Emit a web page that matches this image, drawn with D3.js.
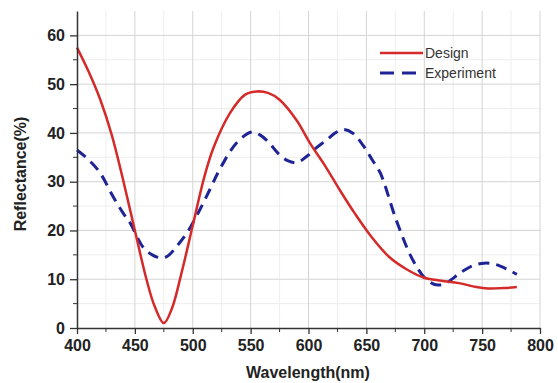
<!DOCTYPE html>
<html>
<head>
<meta charset="utf-8">
<script src="https://cdn.jsdelivr.net/npm/d3@7"></script>
<style>
  body { margin: 0; background: #fff; }
  text { font-family: "Liberation Sans", Arial, sans-serif; }
</style>
</head>
<body>
<div id="chart"></div>
<script>
// data
var designWl  = [400, 410, 420, 430, 440, 450, 460, 467, 475, 482, 490, 500, 510, 518, 532, 545, 555, 565, 575, 590, 601, 615, 627, 640, 655, 670, 685, 700, 715, 730, 745, 755, 770, 780];
var designVal = [57.5, 52.6, 46.9, 39.6, 30.2, 20, 10, 4.5, 1, 4, 11, 21, 31, 37, 44, 47.8, 48.5, 48.2, 46.8, 42.5, 38, 33, 28.3, 23.5, 18.5, 14.5, 12, 10.3, 9.7, 9.2, 8.4, 8.1, 8.2, 8.4];

var expWl  = [400, 410, 420, 431, 440, 446, 457, 465, 472, 478, 487, 495, 506, 515, 523, 538, 551, 558, 566, 573, 582, 590, 598, 607, 616, 623, 630, 638, 647, 655, 662, 676, 690, 702, 712, 720, 731, 742, 752, 762, 772, 780];
var expVal = [36.5, 34.5, 31.8, 27, 23.5, 21.5, 16.6, 15, 14.4, 14.7, 17, 19.5, 24.2, 28.5, 32.4, 38, 40.2, 39.6, 38, 36, 34.3, 33.9, 35.1, 37, 38.6, 40, 40.7, 40, 37.5, 34.5, 31.8, 22, 14, 9.9, 8.8, 9.4, 11.3, 12.8, 13.3, 13, 12, 11];

var xTicks = [400, 450, 500, 550, 600, 650, 700, 750, 800];
var yTicks = [0, 10, 20, 30, 40, 50, 60];
var seriesNames = ["Design", "Experiment"];

var width = 558, height = 383;
var margin = {top: 11, right: 18, bottom: 55, left: 77};

var svg = d3.select("#chart")
    .append("svg")
    .attr("width", width)
    .attr("height", height);

var x = d3.scaleLinear().domain([400, 800]).range([margin.left, width - margin.right]);
var y = d3.scaleLinear().domain([0, 65]).range([height - margin.bottom, margin.top]);

var xMinor = d3.range(425, 800, 50);
var yMinor = d3.range(5, 65, 10);

// grid, minor first
var grid = svg.append("g");
grid.selectAll(".vminor").data(xMinor).enter().append("line")
    .attr("x1", d => x(d)).attr("x2", d => x(d))
    .attr("y1", y(0)).attr("y2", margin.top)
    .attr("stroke", "#eeeeee").attr("stroke-width", 1);
grid.selectAll(".hminor").data(yMinor).enter().append("line")
    .attr("x1", x(400)).attr("x2", x(800))
    .attr("y1", d => y(d)).attr("y2", d => y(d))
    .attr("stroke", "#eeeeee").attr("stroke-width", 1);
grid.selectAll(".vmajor").data(xTicks.slice(1)).enter().append("line")
    .attr("x1", d => x(d)).attr("x2", d => x(d))
    .attr("y1", y(0)).attr("y2", margin.top)
    .attr("stroke", "#d4d4d4").attr("stroke-width", 1);
grid.selectAll(".hmajor").data(yTicks.slice(1)).enter().append("line")
    .attr("x1", x(400)).attr("x2", x(800))
    .attr("y1", d => y(d)).attr("y2", d => y(d))
    .attr("stroke", "#d4d4d4").attr("stroke-width", 1);

// lines
var design = designWl.map((d, i) => [d, designVal[i]]);
var exper = expWl.map((d, i) => [d, expVal[i]]);

var line = d3.line()
    .x(d => x(d[0]))
    .y(d => y(d[1]))
    .curve(d3.curveCatmullRom);

svg.append("path")
    .datum(exper)
    .attr("fill", "none")
    .attr("stroke", "#1e2496")
    .attr("stroke-width", 3)
    .attr("stroke-dasharray", "11,7")
    .attr("d", line);

svg.append("path")
    .datum(design)
    .attr("fill", "none")
    .attr("stroke", "#d42a2a")
    .attr("stroke-width", 2.5)
    .attr("d", line);

// axes
var xAxis = svg.append("g")
    .attr("transform", "translate(0," + y(0) + ")")
    .call(d3.axisBottom(x).tickValues(xTicks).tickSize(6).tickPadding(6).tickSizeOuter(0));
xAxis.selectAll(".minor").data(xMinor).enter().append("line")
    .attr("x1", d => x(d)).attr("x2", d => x(d))
    .attr("y1", 0).attr("y2", 4)
    .attr("stroke", "#333");

var yAxis = svg.append("g")
    .attr("transform", "translate(" + x(400) + ",0)")
    .call(d3.axisLeft(y).tickValues(yTicks).tickSize(7).tickPadding(5).tickSizeOuter(0));
yAxis.selectAll(".minor").data(yMinor).enter().append("line")
    .attr("x1", 0).attr("x2", -4)
    .attr("y1", d => y(d)).attr("y2", d => y(d))
    .attr("stroke", "#333");

[xAxis, yAxis].forEach(function(a) {
    a.select(".domain").attr("stroke", "#333").attr("stroke-width", 1.5);
    a.selectAll(".tick line").attr("stroke", "#333").attr("stroke-width", 1.3);
    a.selectAll(".tick text")
        .attr("fill", "#222")
        .style("font-size", "16px")
        .style("font-weight", "bold")
        .style("font-family", "'Liberation Sans', Arial, sans-serif");
});

// axis titles
svg.append("text")
    .attr("x", 308).attr("y", 378)
    .attr("text-anchor", "middle")
    .attr("fill", "#222")
    .style("font-size", "16px").style("font-weight", "bold")
    .text("Wavelength(nm)");

svg.append("text")
    .attr("transform", "translate(26,174) rotate(-90)")
    .attr("text-anchor", "middle")
    .attr("fill", "#222")
    .style("font-size", "16px").style("font-weight", "bold")
    .text("Reflectance(%)");

// legend
var legend = svg.append("g");
legend.append("line")
    .attr("x1", 380).attr("x2", 423).attr("y1", 53).attr("y2", 53)
    .attr("stroke", "#d42a2a").attr("stroke-width", 2.5);
legend.append("line")
    .attr("x1", 380).attr("x2", 423).attr("y1", 73).attr("y2", 73)
    .attr("stroke", "#1e2496").attr("stroke-width", 3)
    .attr("stroke-dasharray", "14,8");
legend.selectAll(".lab").data(seriesNames).enter().append("text")
    .attr("x", 425)
    .attr("y", (d, i) => 58 + i * 20)
    .attr("fill", "#333")
    .style("font-size", "14px")
    .text(d => d);
</script>
</body>
</html>
